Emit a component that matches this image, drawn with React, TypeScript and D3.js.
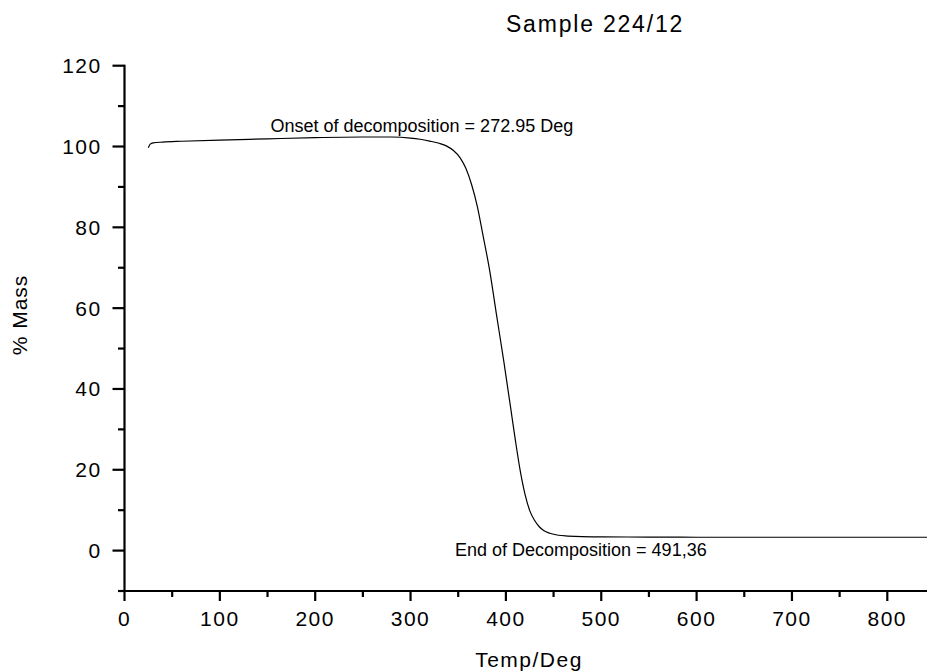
import React from "react";
import * as d3 from "d3";

const temps = [25, 27, 30, 40, 60, 100, 150, 200, 250, 280, 300, 310, 320, 330, 338, 345, 352, 358, 364, 370, 376, 383, 390, 398, 405, 410, 415, 420, 425, 430, 435, 440, 446, 455, 465, 480, 500, 550, 600, 700, 800, 845];
const mass = [99.7, 100.6, 100.9, 101.1, 101.3, 101.6, 101.9, 102.2, 102.35, 102.35, 102.1, 101.8, 101.35, 100.8, 100.1, 99.0, 97.2, 94.6, 90.6, 85.2, 78.0, 69.3, 58.6, 46.5, 35.3, 27.2, 19.8, 14.0, 9.9, 7.5, 5.9, 4.9, 4.3, 3.8, 3.6, 3.45, 3.4, 3.35, 3.3, 3.3, 3.3, 3.3];
const xMajorTicks = [0, 100, 200, 300, 400, 500, 600, 700, 800];
const yMajorTicks = [0, 20, 40, 60, 80, 100, 120];
const title = "Sample 224/12";
const xLabel = "Temp/Deg";
const yLabel = "% Mass";
const onsetText = "Onset of decomposition = 272.95 Deg";
const endText = "End of Decomposition = 491,36";

const W = 927;
const H = 671;

export default function App() {
  const x = d3.scaleLinear().domain([0, 850]).range([124.5, 124.5 + 850 * 0.9535]);
  const y = d3.scaleLinear().domain([-10, 120]).range([591, 65.7]);
  const pts = temps.map((t, i) => [t, mass[i]] as [number, number]);
  const line = d3
    .line<[number, number]>()
    .x((d) => x(d[0]))
    .y((d) => y(d[1]))
    .curve(d3.curveMonotoneX);
  const xMinor = d3.range(50, 850, 100);
  const yMinor = d3.range(-10, 120, 20);
  const font = "'Liberation Sans', Arial, Helvetica, sans-serif";
  const axisY = y(-10);
  const axisX = x(0);
  return (
    <svg
      width={W}
      height={H}
      style={{ position: "absolute", left: 0, top: 0, background: "#fff" }}
      fontFamily={font}
    >
      <rect x={0} y={0} width={W} height={H} fill="#fff" />
      {/* curve */}
      <path d={line(pts) || ""} fill="none" stroke="#000" strokeWidth={1.2} />
      {/* x axis */}
      <line x1={axisX - 6.5} x2={W} y1={axisY} y2={axisY} stroke="#000" strokeWidth={2.2} />
      {xMajorTicks.map((t) => (
        <g key={"xt" + t}>
          <line x1={x(t)} x2={x(t)} y1={axisY} y2={axisY + 10} stroke="#000" strokeWidth={2.2} />
          <text x={x(t)} y={626} textAnchor="middle" fontSize={21} letterSpacing={1.5}>
            {t}
          </text>
        </g>
      ))}
      {xMinor.map((t) => (
        <line key={"xm" + t} x1={x(t)} x2={x(t)} y1={axisY} y2={axisY + 6} stroke="#000" strokeWidth={2.2} />
      ))}
      {/* y axis */}
      <line x1={axisX} x2={axisX} y1={y(120) - 1} y2={axisY} stroke="#000" strokeWidth={2.2} />
      {yMajorTicks.map((t) => (
        <g key={"yt" + t}>
          <line x1={axisX - 12} x2={axisX} y1={y(t)} y2={y(t)} stroke="#000" strokeWidth={2.2} />
          <text x={101.7} y={y(t) + 7.5} textAnchor="end" fontSize={21} letterSpacing={1.5}>
            {t}
          </text>
        </g>
      ))}
      {yMinor.map((t) => (
        <line key={"ym" + t} x1={axisX - 6.5} x2={axisX} y1={y(t)} y2={y(t)} stroke="#000" strokeWidth={2.2} />
      ))}
      {/* labels */}
      <text x={595} y={31.5} textAnchor="middle" fontSize={23} letterSpacing={1.8}>
        {title}
      </text>
      <text x={529} y={666.5} textAnchor="middle" fontSize={21} letterSpacing={1.5}>
        {xLabel}
      </text>
      <text
        transform={`translate(27,315) rotate(-90)`}
        textAnchor="middle"
        fontSize={21}
        letterSpacing={1}
      >
        {yLabel}
      </text>
      <text x={270.5} y={132} fontSize={18}>
        {onsetText}
      </text>
      <text x={455} y={555.7} fontSize={18}>
        {endText}
      </text>
    </svg>
  );
}
